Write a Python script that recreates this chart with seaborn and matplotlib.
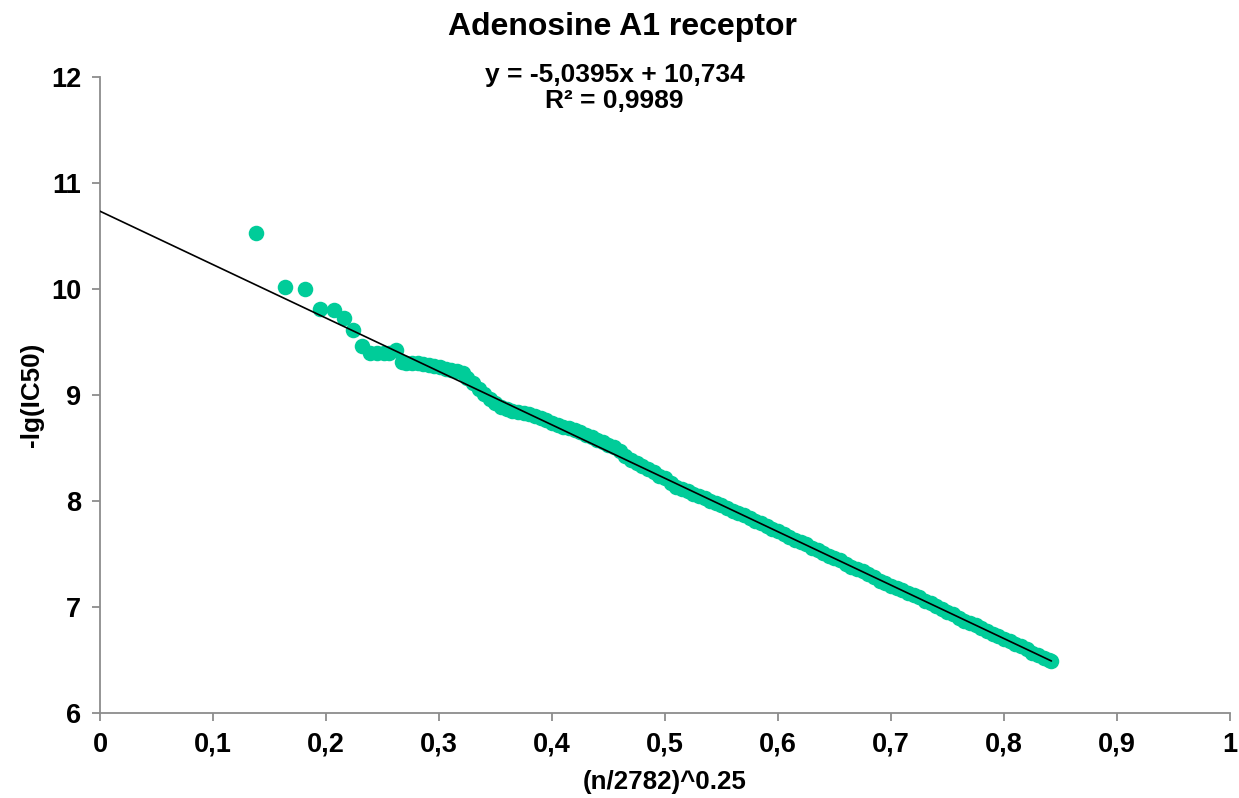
import matplotlib
matplotlib.use("Agg")
import matplotlib.pyplot as plt
import matplotlib.ticker as mticker
import seaborn as sns
import pandas as pd

# values
x_vals = [0.138, 0.164, 0.181, 0.195, 0.207, 0.216, 0.224, 0.232, 0.239, 0.245, 0.251, 0.256, 0.262,
          0.267, 0.271, 0.276, 0.281, 0.286, 0.291, 0.296, 0.301, 0.306, 0.311, 0.316, 0.321,
          0.325, 0.330, 0.335, 0.340, 0.345, 0.350, 0.355, 0.360, 0.365, 0.370, 0.375, 0.380,
          0.385, 0.390, 0.395, 0.400, 0.405, 0.410, 0.415, 0.420, 0.425, 0.430, 0.435, 0.440,
          0.445, 0.450, 0.455, 0.460, 0.465, 0.470, 0.475, 0.480, 0.485, 0.490, 0.495, 0.500,
          0.505, 0.510, 0.515, 0.520, 0.525, 0.530, 0.535, 0.540, 0.545, 0.550, 0.555, 0.560,
          0.565, 0.570, 0.575, 0.580, 0.585, 0.590, 0.595, 0.600, 0.605, 0.610, 0.615, 0.620,
          0.625, 0.630, 0.635, 0.640, 0.645, 0.650, 0.655, 0.660, 0.665, 0.670, 0.675, 0.680,
          0.685, 0.690, 0.695, 0.700, 0.705, 0.710, 0.715, 0.720, 0.725, 0.730, 0.735, 0.740,
          0.745, 0.750, 0.755, 0.760, 0.765, 0.770, 0.775, 0.780, 0.785, 0.790, 0.795, 0.800,
          0.805, 0.810, 0.815, 0.820, 0.825, 0.830, 0.835, 0.840, 0.842]
y_vals = [10.53, 10.02, 10.00, 9.81, 9.80, 9.73, 9.61, 9.46, 9.40, 9.40, 9.40, 9.40, 9.42,
          9.31, 9.30, 9.30, 9.30, 9.29, 9.28, 9.27, 9.26, 9.25, 9.24, 9.23, 9.21,
          9.16, 9.11, 9.06, 9.01, 8.96, 8.92, 8.89, 8.87, 8.85, 8.84, 8.83, 8.82,
          8.80, 8.78, 8.76, 8.74, 8.72, 8.70, 8.69, 8.67, 8.65, 8.62, 8.60, 8.58,
          8.56, 8.53, 8.51, 8.47, 8.42, 8.39, 8.36, 8.33, 8.30, 8.27, 8.24, 8.22,
          8.17, 8.13, 8.11, 8.09, 8.07, 8.05, 8.03, 8.00, 7.98, 7.96, 7.93, 7.91,
          7.89, 7.87, 7.84, 7.81, 7.79, 7.76, 7.74, 7.72, 7.69, 7.66, 7.63, 7.61,
          7.59, 7.56, 7.54, 7.51, 7.48, 7.46, 7.44, 7.41, 7.38, 7.36, 7.34, 7.31,
          7.28, 7.25, 7.23, 7.20, 7.18, 7.16, 7.13, 7.11, 7.09, 7.06, 7.04, 7.01,
          6.98, 6.95, 6.93, 6.90, 6.87, 6.85, 6.83, 6.80, 6.77, 6.75, 6.73, 6.70,
          6.68, 6.65, 6.63, 6.60, 6.57, 6.55, 6.52, 6.50, 6.49]

# linear trendline shown on the chart
slope = -5.0395
intercept = 10.734
r_squared = 0.9989

x_ticks = [0, 0.1, 0.2, 0.3, 0.4, 0.5, 0.6, 0.7, 0.8, 0.9, 1]
y_ticks = [6, 7, 8, 9, 10, 11, 12]

df = pd.DataFrame({"x": x_vals, "y": y_vals})

sns.set_theme(style="white")
plt.rcParams["font.family"] = ["Liberation Sans", "DejaVu Sans"]
plt.rcParams["font.weight"] = "bold"
plt.rcParams["text.color"] = "black"
plt.rcParams["axes.labelcolor"] = "black"

fig = plt.figure(figsize=(12.39, 7.98), dpi=100)
ax = fig.add_axes([0.0807, 0.1065, 0.9120, 0.7970])

sns.scatterplot(data=df, x="x", y="y", ax=ax, color="#00CC99", s=125,
                linewidth=0, zorder=2)

# trendline from 0 to the last point
x_end = max(x_vals)
ax.plot([0, x_end], [intercept, intercept + slope * x_end], color="black",
        linewidth=1.2, zorder=3)

ax.set_xlim(0, 1)
ax.set_ylim(6, 12)
ax.set_xticks(x_ticks)
ax.set_yticks(y_ticks)

def comma_fmt(v, pos):
    s = f"{v:g}"
    return s.replace(".", ",")

ax.xaxis.set_major_formatter(mticker.FuncFormatter(comma_fmt))
ax.yaxis.set_major_formatter(mticker.FuncFormatter(comma_fmt))

for side in ["top", "right"]:
    ax.spines[side].set_visible(False)
for side in ["left", "bottom"]:
    ax.spines[side].set_color("#8c8c8c")
    ax.spines[side].set_linewidth(1.3)

ax.tick_params(axis="both", which="major", direction="out", length=5.5, width=1.3,
               color="#8c8c8c", labelsize=19.5, labelcolor="black", pad=8)
ax.tick_params(axis="x", bottom=True)
ax.tick_params(axis="y", left=True)
for lbl in ax.get_xticklabels() + ax.get_yticklabels():
    lbl.set_fontweight("bold")

ax.set_xlabel("(n/2782)^0.25", fontsize=18.7, fontweight="bold", labelpad=9, color="black")
ax.set_ylabel("-lg(IC50)", fontsize=18.7, fontweight="bold", labelpad=5, color="black")

fig.text(0.502, 1 - 27 / 798, "Adenosine A1 receptor", ha="center", va="center",
         fontsize=23, fontweight="bold", color="black")
fig.text(0.496, 1 - 75 / 798, f"y = {slope:.4f}x + {intercept:.3f}".replace(".", ","),
         ha="center", va="center", fontsize=19, fontweight="bold", color="black")
fig.text(0.496, 1 - 101 / 798, f"R² = {r_squared:.4f}".replace(".", ","),
         ha="center", va="center", fontsize=19, fontweight="bold", color="black")

fig.savefig("out.png", dpi=100)
